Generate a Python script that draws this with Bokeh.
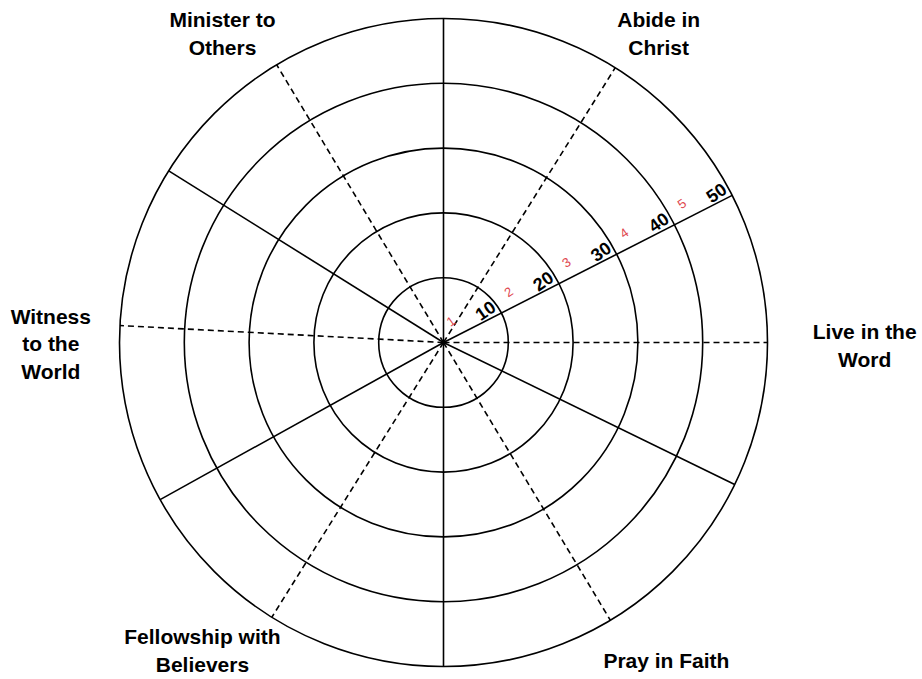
import numpy as np
from bokeh.plotting import figure
from bokeh.models import Range1d
from bokeh.core.properties import value
from bokeh.embed import file_html
from bokeh.resources import INLINE

# ---- data ----
categories = ["Live in the\nWord", "Abide in\nChrist", "Minister to\nOthers",
              "Witness\nto the\nWorld", "Fellowship with\nBelievers", "Pray in Faith"]
category_angles = [0, 58, 121, 177, 238, 301]      # dashed axes (deg)
divider_angles = [27, 90, 148, 209, 270, 334]      # solid dividers (deg)
ring_values = [10, 20, 30, 40, 50]
major_labels = ["10", "20", "30", "40", "50"]
minor_labels = ["1", "2", "3", "4", "5"]
scale_angle = 27                                   # the numbered spoke (deg)
max_value = 50

# ---- layout ----
label_pos_x = [65.0, 33.2, -34.1, -60.6, -37.2, 34.4]
label_pos_y = [-0.5, 47.7, 47.7, -0.2, -47.5, -49.0]

W, H = 922, 679
S = 6.48  # px per unit
cx, cy = 443, 342
p = figure(width=W, height=H, output_backend="svg", toolbar_location=None,
           x_range=Range1d(-cx / S, (W - cx) / S), y_range=Range1d(-(H - cy) / S, cy / S),
           min_border=0)
p.axis.visible = False
p.grid.visible = False
p.outline_line_color = None
p.background_fill_color = "white"

# rings
p.circle(x=[0] * len(ring_values), y=[0] * len(ring_values), radius=ring_values,
         fill_color=None, line_color="black", line_width=1.6)

# dashed category axes
ca = np.radians(category_angles)
p.segment(x0=0, y0=0, x1=max_value * np.cos(ca), y1=max_value * np.sin(ca),
          line_color="black", line_width=1.6, line_dash="6 4")

# solid dividers
da = np.radians(divider_angles)
p.segment(x0=0, y0=0, x1=max_value * np.cos(da), y1=max_value * np.sin(da),
          line_color="black", line_width=1.6)

# scale labels along the numbered spoke
sa = np.radians(scale_angle)
u = np.array([np.cos(sa), np.sin(sa)])
n = np.array([-np.sin(sa), np.cos(sa)])
rv = np.array(ring_values, dtype=float)
maj_along = rv - 2.0
min_along = rv - 7.5
p.text(x=maj_along * u[0] + 1.5 * n[0], y=maj_along * u[1] + 1.5 * n[1], text=major_labels,
       angle=35, angle_units="deg", text_align="center", text_baseline="middle",
       text_font=value("Liberation Sans"), text_font_style="bold", text_font_size="18px",
       text_color="black")
p.text(x=min_along * u[0] + 2.4 * n[0], y=min_along * u[1] + 2.4 * n[1], text=minor_labels,
       angle=35, angle_units="deg", text_align="center", text_baseline="middle",
       text_font=value("Liberation Sans"), text_font_size="13px", text_color="#e0474f")

# category labels
p.text(x=label_pos_x, y=label_pos_y, text=categories, text_align="center",
       text_baseline="middle", text_font=value("Liberation Sans"), text_font_style="bold",
       text_font_size="21px", text_line_height=1.2, text_color="black")

open("out.html", "w").write(file_html(p, INLINE))
